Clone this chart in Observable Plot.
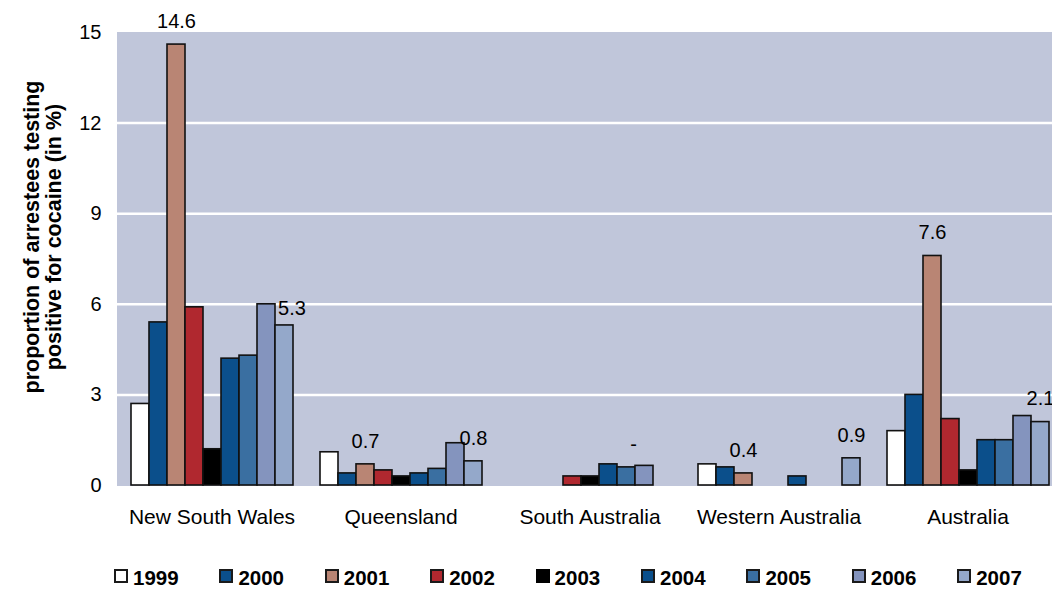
<!DOCTYPE html>
<html>
<head>
<meta charset="utf-8">
<script src="https://cdn.jsdelivr.net/npm/d3@7"></script>
<script src="https://cdn.jsdelivr.net/npm/@observablehq/plot@0.6"></script>
<style>
  html, body { margin: 0; padding: 0; background: #fff; overflow: hidden; }
  body { font-family: "Liberation Sans", Arial, sans-serif; }
  #wrap { position: relative; width: 1052px; height: 590px; overflow: hidden; }
  #chart svg { max-width: none !important; display: block; }
  #ytitle {
    position: absolute; left: -137px; top: 215px; width: 360px; height: 44px;
    transform: rotate(-90deg); transform-origin: 50% 50%;
    text-align: center; font-weight: bold; font-size: 21.5px; line-height: 22px; color: #000;
  }
  #legend { position: absolute; left: 0; top: 566px; width: 1052px; height: 24px; }
  .item { position: absolute; top: 0; height: 24px; display: flex; align-items: center;
          font-weight: bold; font-size: 20.5px; color: #000; }
  .sw { width: 14px; height: 14px; box-sizing: border-box; border: 2px solid #1a1a1a; margin-right: 5px; margin-top: -4px; }
</style>
</head>
<body>
<div id="wrap">
  <div id="chart"></div>
  <div id="ytitle">proportion of arrestees testing<br>positive for cocaine (in %)</div>
  <div id="legend"></div>
</div>
<script>
// ---- data ----
const regions = ["New South Wales", "Queensland", "South Australia", "Western Australia", "Australia"];
const years = ["1999", "2000", "2001", "2002", "2003", "2004", "2005", "2006", "2007"];
const yearColors = ["#ffffff", "#0b4f8b", "#b98574", "#b0282f", "#000000", "#0b4f8b", "#3a6fa1", "#8494be", "#94a8ca"];
const newSouthWales = [2.7, 5.4, 14.6, 5.9, 1.2, 4.2, 4.3, 6.0, 5.3];
const queensland = [1.1, 0.4, 0.7, 0.5, 0.3, 0.4, 0.55, 1.4, 0.8];
const southAustralia = [null, null, null, 0.3, 0.3, 0.7, 0.6, 0.65, null];
const westernAustralia = [0.7, 0.6, 0.4, null, null, 0.3, null, null, 0.9];
const australia = [1.8, 3.0, 7.6, 2.2, 0.5, 1.5, 1.5, 2.3, 2.1];
const yTicks = [0, 3, 6, 9, 12, 15];
const labelRegions = ["New South Wales", "New South Wales", "Queensland", "Queensland", "South Australia", "Western Australia", "Western Australia", "Australia", "Australia"];
const labelYears = ["2001", "2007", "2001", "2007", "2005", "2001", "2007", "2001", "2007"];
const labelTexts = ["14.6", "5.3", "0.7", "0.8", "-", "0.4", "0.9", "7.6", "2.1"];

// ---- build table ----
const series = [newSouthWales, queensland, southAustralia, westernAustralia, australia];
const data = [];
regions.forEach((r, i) => years.forEach((y, j) => {
  const v = series[i][j];
  if (v != null) data.push({region: r, year: y, value: v});
}));
const labels = labelTexts.map((t, k) => {
  const ri = regions.indexOf(labelRegions[k]);
  const yi = years.indexOf(labelYears[k]);
  return {region: labelRegions[k], year: labelYears[k], value: series[ri][yi], text: t};
});

const font = "'Liberation Sans', Arial, sans-serif";
const bg = "#c0c6da";
const hasAxisMarks = typeof Plot.axisFx === "function";
const marks = [
  Plot.frame({fill: bg, stroke: bg, strokeWidth: 1}),
  Plot.ruleY([3, 6, 9, 12], {stroke: "#ffffff", strokeWidth: 2.5}),
  Plot.barY(data, {fx: "region", x: "year", y: "value", fill: "year", stroke: "#111", strokeWidth: 1.6}),
  Plot.text(labels.filter(d => d.text !== "5.3" && d.text !== "-"),
    {fx: "region", x: "year", y: "value", text: "text", dy: -23, fontSize: 20, fill: "#000"}),
  Plot.text(labels.filter(d => d.text === "5.3"),
    {fx: "region", x: "year", y: "value", text: "text", dx: 7.5, dy: -17, fontSize: 20, fill: "#000"}),
  Plot.text(labels.filter(d => d.text === "-"),
    {fx: "region", x: "year", y: "value", text: "text", dx: 7, dy: -23, fontSize: 20, fill: "#000"})
];
if (hasAxisMarks) {
  marks.push(Plot.axisFx({anchor: "bottom", tickSize: 0, tickPadding: 24, label: null, fontSize: 21, fill: "#000"}));
  marks.push(Plot.axisY(yTicks, {anchor: "left", tickSize: 0, tickPadding: 16, label: null, fontSize: 20, fill: "#000"}));
}
const chart = Plot.plot({
  width: 1064,
  height: 545,
  marginLeft: 115,
  marginRight: 0,
  marginTop: 32,
  marginBottom: 60,
  style: {fontFamily: font, fontSize: "20px", color: "#000", background: "transparent", maxWidth: "none"},
  fx: {domain: regions, padding: 0, label: null, tickSize: 0, tickPadding: 25, axis: hasAxisMarks ? undefined : "bottom"},
  x: {domain: years, axis: null, paddingInner: 0, paddingOuter: 0.75},
  y: {domain: [0, 15], ticks: yTicks, tickSize: 0, tickPadding: 16, label: null},
  color: {domain: years, range: yearColors},
  marks
});
document.getElementById("chart").appendChild(chart);

// ---- legend ----
const legend = document.getElementById("legend");
years.forEach((y, i) => {
  const it = document.createElement("div");
  it.className = "item";
  it.style.left = (114 + i * 105.4) + "px";
  const sw = document.createElement("span");
  sw.className = "sw";
  sw.style.background = yearColors[i];
  if (y === "2003") sw.style.borderColor = "#000";
  it.appendChild(sw);
  const t = document.createElement("span");
  t.textContent = y;
  it.appendChild(t);
  legend.appendChild(it);
});
</script>
</body>
</html>
